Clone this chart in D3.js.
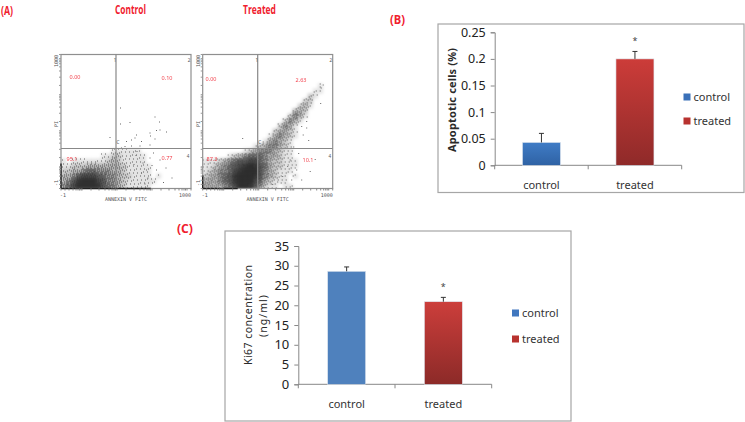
<!DOCTYPE html>
<html><head><meta charset="utf-8">
<script src="https://cdn.jsdelivr.net/npm/d3@7/dist/d3.min.js"></script>
<style>html,body{margin:0;padding:0;background:#fff}svg{display:block}text{font-family:"Noto Sans","Open Sans",sans-serif}</style>
</head><body><svg id="c" width="745" height="422"></svg>
<script>
// Panel A: density read per 5 px cell (0 = empty, 9 = black), top row first
const controlDensity = [
"00000000001111110",
"00000000112211111",
"10111111123211111",
"1122233333332111110",
"2233455444332111110",
"33467776544322111101",
"3468999764432111111",
"45799998654321111100"];
const treatedDensity = [
"00000000000000000000000100",
"00000000000000000000001100",
"00000000000000000000021000",
"00000000000000000000220000",
"0000000000000000000231",
"000000000000000000332",
"000000000000000002431",
"00000000000000002431",
"0000000000000002431",
"0000000000000023321",
"0000000000000134321",
"000000000000134321",
"000000000012344321",
"000000001234443211",
"000001234555433211",
"1112345667754322111",
"1123456789865322111",
"123445789996432111",
"2334568999864321101",
"33345689997532111",
"333345799864211011"];
// sparse events, channel units
const controlX = [119,188,197,138,119,98,198,191,211,178,151,179,141,148,188,131,161,178,141,158,128,121,164,171,161,191,174,210,222,178,198,150,185,205,168,146,152,182];
const controlY = [161,143,133,132,129,102,117,116,113,111,107,105,97,101,99,94,94,87,85,85,84,81,51,37,31,37,21,41,21,61,57,66,71,12,9,48,74,46];
const treatedX = [80,208,198,208,201,241,235,198,178,188,215,175,160,150,170,192,225,140,132,182,212,236];
const treatedY = [100,134,124,121,107,207,203,17,17,37,34,57,24,13,44,70,58,8,30,83,96,170];
const quadControl = ["0.00","0.10","95.1","0.77"];
const quadTreated = ["0.00","2.63","87.3","10.1"];
const quadMarks = ["1","2","C","4"];
const flowAxisLabel = "ANNEXIN V FITC";
const flowTicks = [0,8,16,24,30,34,37,40,42,60,76,88,96,102,106,109,112,130,146,158,166,172,176,179,182,200,216,228,236,242,246,249,252,260];
// share of pixels stippled at each density level
const stippleShare = [0,0.08,0.14,0.22,0.34,0.48,0.62,0.75,0.88,1];

// Panel B
const categories = ["control","treated"];
const apoptoticValues = [0.043,0.2];
const apoptoticErrors = [0.017,0.014];
const apoptoticTicks = [0,0.05,0.1,0.15,0.2,0.25];
const apoptoticSig = [false,true];
// Panel C
const ki67Values = [28.6,20.9];
const ki67Errors = [1.1,1.1];
const ki67Ticks = [0,5,10,15,20,25,30,35];
const ki67Sig = [false,true];

const svg = d3.select("#c");
const defs = svg.append("defs");
defs.append("filter").attr("id","tone").attr("x","-5%").attr("y","-5%").attr("width","110%").attr("height","110%")
  .append("feGaussianBlur").attr("stdDeviation",1.6);
defs.append("filter").attr("id","soft").attr("x","-5%").attr("y","-5%").attr("width","110%").attr("height","110%")
  .append("feGaussianBlur").attr("stdDeviation",0.4);
defs.append("filter").attr("id","softer").append("feGaussianBlur").attr("stdDeviation",0.3);
function grad(id,a,b){const g=defs.append("linearGradient").attr("id",id).attr("x1",0).attr("y1",0).attr("x2",0).attr("y2",1);
  g.append("stop").attr("offset",0).attr("stop-color",a);g.append("stop").attr("offset",1).attr("stop-color",b);}
grad("redB","#cc3c39","#8f2a29");grad("blueB","#3f7cc6","#2f62a4");grad("blueC","#4f81bd","#4f81bd");grad("redC","#cc3e3b","#8c2a28");

const red="#f0202e";
function label(t,x,y,size,len,anchor){svg.append("text").text(t).attr("x",x).attr("y",y).attr("fill",red)
  .attr("font-size",size).attr("font-weight","bold").attr("text-anchor",anchor||"start")
  .attr("textLength",len).attr("lengthAdjust","spacingAndGlyphs").style("font-family",'"Open Sans",sans-serif');}
label("(A)",1,15,13,12);label("Control",130.5,14,12,31,"middle");label("Treated",259.5,14,12,33,"middle");
label("(B)",390,24,13,15);label("(C)",177,233,13,16);

function flow(x0,vx,density,ex,ey,q,qpos,pile){
  const W=130,top=54.5,bottom=188.5;
  const xS=d3.scaleLinear().domain([0,260]).range([x0,x0+W]);
  const yS=d3.scaleLinear().domain([0,268]).range([bottom,top]);
  const g=svg.append("g");
  const rows=density.length;
  const col=d3.scaleBand().domain(d3.range(26)).range([x0,x0+W]);
  const row=d3.scaleBand().domain(d3.range(rows)).range([bottom-rows*5,bottom]);
  const cells=[],dots=[];
  density.forEach((s,r)=>{for(let c=0;c<s.length;c++){
    const v=+s[c]; if(!v)continue; cells.push({r,c,v});
    for(let a=0;a<5;a++)for(let b=0;b<5;b++){
      const px=c*5+a,py=r*5+b+(x0>100?3:0);
      const t=(px*0.7549+py*0.5698)%1;       // ordered dither threshold, no data in it
      if(t<stippleShare[v])dots.push({x:col(c)+a,y:row(r)+b,v});
    }
  }});
  const clip="clip"+Math.round(x0);
  defs.append("clipPath").attr("id",clip).append("rect").attr("x",x0).attr("y",top).attr("width",W).attr("height",bottom-top);
  const inner=g.append("g").attr("clip-path",`url(#${clip})`);
  const op=d3.scaleLinear().domain([1,9]).range([0.1,0.95]);
  inner.append("g").attr("filter","url(#tone)").selectAll("rect").data(cells).join("rect")
    .attr("x",d=>col(d.c)).attr("y",d=>row(d.r)).attr("width",col.bandwidth()+.3).attr("height",row.bandwidth()+.3)
    .attr("fill","#1a1a1a").attr("opacity",d=>op(d.v));
  inner.append("g").attr("filter","url(#soft)").selectAll("rect").data(dots).join("rect")
    .attr("x",d=>d.x).attr("y",d=>d.y).attr("width",1).attr("height",1).attr("fill","#333").attr("opacity",.75);
  g.append("g").attr("filter","url(#softer)").selectAll("rect").data(ex).join("rect")
    .attr("x",(d)=>xS(d)-.5).attr("y",(d,i)=>yS(ey[i])-.5).attr("width",1).attr("height",1).attr("fill","#666");
  // frame and gates
  g.append("rect").attr("x",x0).attr("y",top).attr("width",W).attr("height",bottom-top).attr("fill","none").attr("stroke","#8f8f8f").attr("stroke-width",1.2);
  g.append("line").attr("x1",xS(vx)).attr("x2",xS(vx)).attr("y1",top).attr("y2",bottom).attr("stroke","#888").attr("stroke-width",1.2);
  g.append("line").attr("x1",x0).attr("x2",x0+W).attr("y1",yS(80)).attr("y2",yS(80)).attr("stroke","#888").attr("stroke-width",1.2);
  // events piled on the axes
  g.append("line").attr("x1",x0).attr("x2",xS(pile[0])).attr("y1",bottom).attr("y2",bottom).attr("stroke","#222").attr("stroke-width",1.6);
  g.append("line").attr("x1",x0).attr("x2",x0).attr("y1",bottom).attr("y2",yS(pile[1])).attr("stroke","#222").attr("stroke-width",1.4);
  // ticks
  g.append("g").selectAll("line").data(flowTicks).join("line").attr("x1",d=>xS(d)).attr("x2",d=>xS(d)).attr("y1",bottom).attr("y2",bottom+2).attr("stroke","#888");
  g.append("g").selectAll("line").data(flowTicks).join("line").attr("x1",x0).attr("x2",x0-2).attr("y1",d=>yS(d*268/260)).attr("y2",d=>yS(d*268/260)).attr("stroke","#999");
  // text
  const small=(t,x,y,a,rot)=>{const e=g.append("text").text(t).attr("fill","#555").attr("font-size",5).attr("text-anchor",a||"middle").style("font-family","'DejaVu Sans Mono',monospace");
    if(rot)e.attr("transform",`translate(${x},${y}) rotate(-90)`);else e.attr("x",x).attr("y",y);};
  small(flowAxisLabel,x0+W/2,201);small("-1",x0+2,197);small("1000",x0+W-6,197);
  small("1000",x0-3,61,"middle",true);small("PI",x0-3,124,"middle",true);small("-1",x0-3,183,"middle",true);
  g.append("g").selectAll("text").data(q).join("text").text(d=>d).attr("fill",red).attr("opacity",.85).attr("font-size",5.5).attr("text-anchor","middle")
    .attr("x",(d,i)=>qpos[i][0]).attr("y",(d,i)=>qpos[i][1]).attr("filter","url(#softer)");
  const mp=[[vx-2,60],[256,60],[vx+4,148],[254,155]];
  g.append("g").selectAll("text").data(quadMarks).join("text").text(d=>d).attr("fill","#555").attr("font-size",4.5).attr("text-anchor","middle")
    .attr("x",(d,i)=>xS(mp[i][0])).attr("y",(d,i)=>i<2?top+7:yS(i==2?90:62));
}
flow(61,110,controlDensity,controlX,controlY,quadControl,[[75,79],[167,80],[72,161],[167,160]],[180,50]);
flow(202.7,110,treatedDensity,treatedX,treatedY,quadTreated,[[211,81],[301,82],[212,161],[308,162]],[70,26]);

function bars(o){
  const g=svg.append("g");
  g.append("rect").attr("x",o.frame[0]).attr("y",o.frame[1]).attr("width",o.frame[2]-o.frame[0]).attr("height",o.frame[3]-o.frame[1])
    .attr("fill","#fff").attr("stroke","#a6a6a6").attr("stroke-width",1.2);
  const x=d3.scaleBand().domain(categories).range([o.ax0,o.ax1]).paddingInner(0).paddingOuter(0);
  const y=d3.scaleLinear().domain([0,o.max]).range([o.y0,o.y1]);
  const bw=o.bw, cx=c=>x(c)+x.bandwidth()/2;
  const yA=d3.axisLeft(y).tickValues(o.ticks).tickFormat(d=>d).tickSize(4).tickPadding(5);
  const gy=g.append("g").attr("transform",`translate(${o.ax0},0)`).call(yA);
  const gx=g.append("g").attr("transform",`translate(0,${o.y0})`);
  gx.append("line").attr("x1",o.ax0).attr("x2",o.ax1).attr("stroke","#888");
  gx.selectAll("line.t").data([o.ax0,x("treated"),o.ax1]).join("line").attr("class","t").attr("x1",d=>d).attr("x2",d=>d).attr("y2",4).attr("stroke","#888");
  gx.selectAll("text").data(categories).join("text").text(d=>d).attr("x",cx).attr("y",o.catY).attr("text-anchor","middle").attr("font-size",o.fs).attr("fill","#333");
  gy.selectAll("path,line").attr("stroke","#888");
  gy.selectAll("text").attr("font-size",o.tickFs).attr("fill","#222").style("font-family",'"Noto Sans",sans-serif');
  g.selectAll("rect.bar").data(categories).join("rect").attr("class","bar")
    .attr("x",d=>cx(d)-bw/2).attr("width",bw).attr("y",(d,i)=>y(o.values[i])).attr("height",(d,i)=>o.y0-y(o.values[i]))
    .attr("fill",(d,i)=>`url(#${o.fills[i]})`).attr("stroke","#dfe6ee").attr("stroke-width",.6);
  const err=g.append("g").attr("stroke","#333").attr("stroke-width",1);
  categories.forEach((c,i)=>{const t=y(o.values[i]+o.errors[i]);
    err.append("line").attr("x1",cx(c)).attr("x2",cx(c)).attr("y1",y(o.values[i])).attr("y2",t);
    err.append("line").attr("x1",cx(c)-2.5).attr("x2",cx(c)+2.5).attr("y1",t).attr("y2",t);
    if(o.sig[i])g.append("text").text("*").attr("x",cx(c)).attr("y",t-o.starGap).attr("text-anchor","middle").attr("font-size",9).attr("fill","#444");
  });
  categories.forEach((c,i)=>{
    g.append("rect").attr("x",o.legX).attr("y",o.legY[i]-o.sw/2).attr("width",o.sw).attr("height",o.sw).attr("fill",o.legFill[i]);
    g.append("text").text(c).attr("x",o.legX+o.sw+3).attr("y",o.legY[i]+4).attr("font-size",o.fs).attr("fill","#333");
  });
  o.title(g);
}
const vtext=(g,t,x,y,len,fs,w)=>g.append("text").text(t).attr("transform",`translate(${x},${y}) rotate(-90)`).attr("text-anchor","middle").attr("font-size",fs).attr("font-weight",w||"normal").attr("fill","#2a2a2a").attr("textLength",len);
bars({frame:[438,24,744,192.5],ax0:494.7,ax1:681.7,y0:165.3,y1:32.3,max:0.25,ticks:apoptoticTicks,values:apoptoticValues,errors:apoptoticErrors,sig:apoptoticSig,
  bw:38,fills:["blueB","redB"],fs:11,tickFs:12.5,catY:24,starGap:7,legX:683.5,legY:[97,121],sw:7,legFill:["#3a70b8","#b8322f"],
  title:g=>vtext(g,"Apoptotic cells  (%)",456,100,104,11,"bold")});
bars({frame:[225,231,571,421],ax0:298.3,ax1:491.7,y0:384.3,y1:246,max:35,ticks:ki67Ticks,values:ki67Values,errors:ki67Errors,sig:ki67Sig,
  bw:38,fills:["blueC","redC"],fs:11,tickFs:13,catY:23.5,starGap:7,legX:512,legY:[313,339],sw:7,legFill:["#4077bf","#b8322f"],
  title:g=>{vtext(g,"Ki67 concentration",252,315,100,10.5);vtext(g,"(ng/ml)",267,316,42,10.5);}});
</script></body></html>
